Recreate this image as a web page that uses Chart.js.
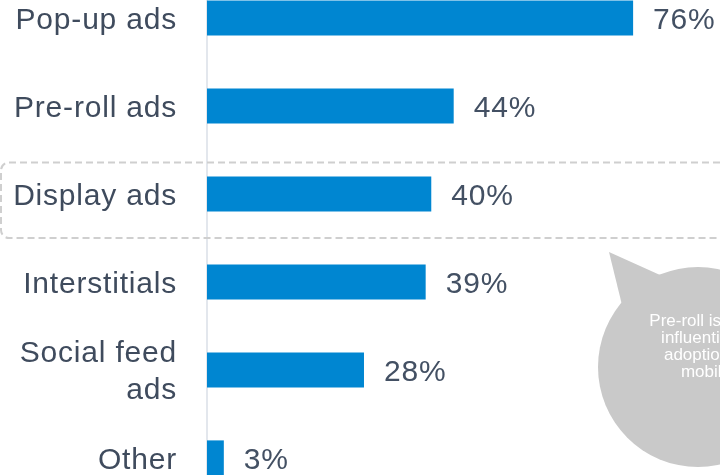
<!DOCTYPE html>
<html>
<head>
<meta charset="utf-8">
<title>Ad formats</title>
<script src="https://cdn.jsdelivr.net/npm/chart.js@4.4.1/dist/chart.umd.min.js"></script>
<style>
  html, body { margin: 0; padding: 0; overflow: hidden; background: #fff; }
  body { width: 720px; height: 475px; position: relative; }
  #chart { position: absolute; left: 0; top: -26px; }
</style>
</head>
<body>
<canvas id="chart" width="900" height="528"></canvas>
<script>
// 数据
const categories = ['Pop-up ads', 'Pre-roll ads', 'Display ads', 'Interstitials', ['Social feed', 'ads'], 'Other'];
const shares = [76, 44, 40, 39, 28, 3];
const valueLabels = ['76%', '44%', '40%', '39%', '28%', '3%'];
const bubbleLines = ['Pre-roll is most', 'influential in', 'adoption of', 'mobile'];

const FONT = "'Liberation Sans', Arial, sans-serif";
const OFFSET_Y = 26; // 画布向上偏移量

// 字距稍微拉开一点
const spacingPlugin = {
  id: 'spacing',
  beforeDraw(chart) {
    chart.ctx.letterSpacing = '0.8px';
  }
};

// 虚线圆角框 + 右侧气泡
const decorPlugin = {
  id: 'decor',
  beforeDatasetsDraw(chart) {
    const ctx = chart.ctx;
    const y = chart.scales.y;
    const cy = y.getPixelForValue(2);
    const top = cy - 31.5, bottom = cy + 44, left = 1, right = 940, r = 8;
    ctx.save();
    ctx.strokeStyle = '#cfcfcf';
    ctx.lineWidth = 2;
    ctx.setLineDash([7, 4]);
    ctx.beginPath();
    ctx.moveTo(right, top);
    ctx.lineTo(left + r, top);
    ctx.arcTo(left, top, left, top + r, r);
    ctx.lineTo(left, bottom - r);
    ctx.arcTo(left, bottom, left + r, bottom, r);
    ctx.lineTo(right, bottom);
    ctx.stroke();
    ctx.restore();
  },
  afterDraw(chart) {
    const ctx = chart.ctx;
    const cx = 698, cy = 367 + OFFSET_Y, rad = 100;
    ctx.save();
    ctx.fillStyle = '#c9c9c9';
    ctx.beginPath();
    ctx.arc(cx, cy, rad, 0, Math.PI * 2);
    ctx.fill();
    ctx.beginPath();
    ctx.moveTo(609, 252 + OFFSET_Y);
    ctx.lineTo(660, 275 + OFFSET_Y);
    ctx.lineTo(622, 305 + OFFSET_Y);
    ctx.closePath();
    ctx.fill();
    ctx.fillStyle = '#ffffff';
    ctx.letterSpacing = '0px';
    ctx.font = '17px ' + FONT;
    ctx.textAlign = 'center';
    ctx.textBaseline = 'middle';
    bubbleLines.forEach((line, i) => {
      ctx.fillText(line, 706, 321 + OFFSET_Y + i * 17);
    });
    ctx.restore();
  }
};

// 柱子右侧的百分比
const valuePlugin = {
  id: 'values',
  afterDatasetsDraw(chart) {
    const ctx = chart.ctx;
    const meta = chart.getDatasetMeta(0);
    ctx.save();
    ctx.fillStyle = '#435063';
    ctx.font = '30px ' + FONT;
    ctx.textAlign = 'left';
    ctx.textBaseline = 'middle';
    meta.data.forEach((bar, i) => {
      ctx.fillText(valueLabels[i], bar.x + 20, bar.y + 3);
    });
    ctx.restore();
  }
};

new Chart(document.getElementById('chart'), {
  type: 'bar',
  data: {
    labels: categories,
    datasets: [{
      data: shares,
      backgroundColor: '#0086d1',
      borderWidth: 0,
      barPercentage: 1,
      categoryPercentage: 0.4
    }]
  },
  options: {
    indexAxis: 'y',
    responsive: false,
    animation: false,
    layout: { padding: 0 },
    plugins: {
      legend: { display: false },
      tooltip: { enabled: false }
    },
    scales: {
      x: {
        display: false,
        min: 0,
        max: 123.6
      },
      y: {
        afterFit(scale) {
          scale.width = 207;
          // 去掉标签带来的上下留白，让类别区刚好铺满画布
          scale.paddingTop = 0;
          scale.paddingBottom = 0;
        },
        grid: { display: false, drawTicks: false },
        border: { display: true, color: '#e3e7ed', width: 2 },
        ticks: {
          padding: 30,
          labelOffset: 2.5,
          color: '#3f4b5d',
          font: { family: FONT, size: 30, lineHeight: 1.23 }
        }
      }
    }
  },
  plugins: [spacingPlugin, decorPlugin, valuePlugin]
});
</script>
</body>
</html>
